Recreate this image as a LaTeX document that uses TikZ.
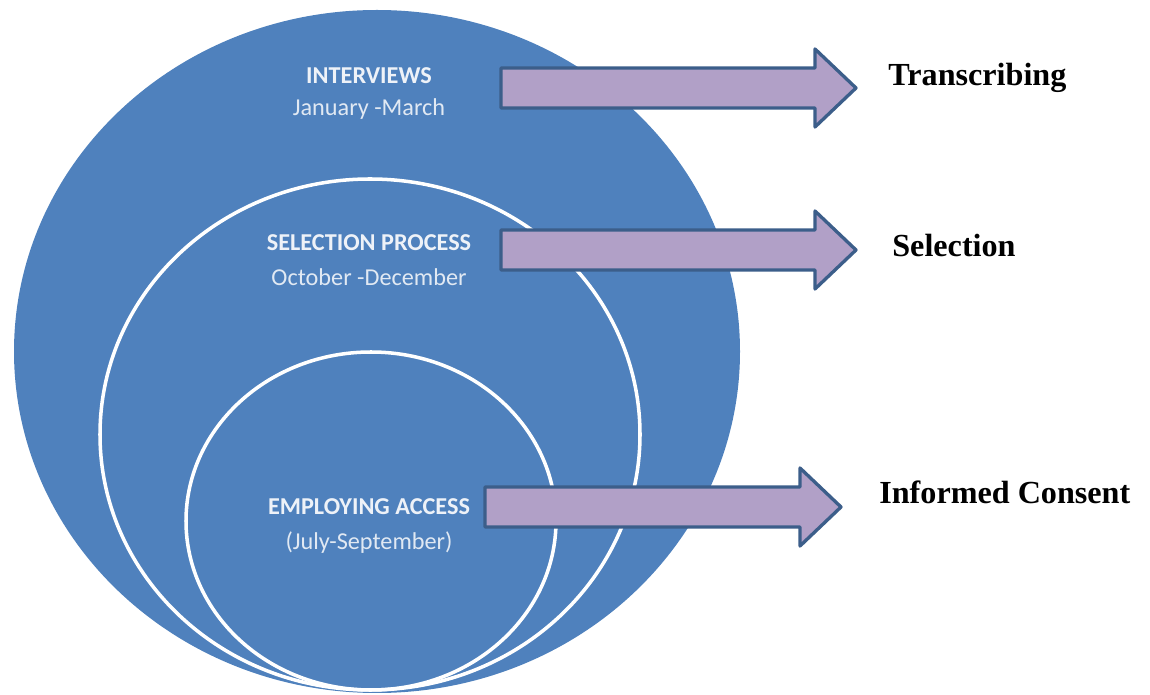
\documentclass[tikz,border=0pt]{standalone}
\usepackage{fontspec}
\setmainfont{Liberation Serif}
\setsansfont{Carlito}
\definecolor{ringblue}{HTML}{4F81BD}
\definecolor{arrowfill}{HTML}{B1A0C7}
\definecolor{arrowedge}{HTML}{3C5E8A}
\definecolor{softwhite}{HTML}{EEF2F8}
\begin{document}
\begin{tikzpicture}[x=0.02cm,y=-0.02cm,
  ring/.style={draw=white,line width=2pt},
  fat/.style={fill=arrowfill,draw=arrowedge,line width=1.9pt,line join=round},
  stage/.style={font=\sffamily\bfseries\fontsize{13.8}{16}\selectfont,text=softwhite,inner sep=0pt},
  period/.style={font=\sffamily\fontsize{13.8}{16}\selectfont,text=softwhite!92!ringblue,inner sep=0pt},
  outcome/.style={font=\rmfamily\bfseries\fontsize{18.3}{21}\selectfont,text=black,inner sep=0pt,anchor=west}]
\useasboundingbox (0,0) rectangle (1150,695);

% nested phases
\fill[ringblue] (377,351.5) ellipse [x radius=363, y radius=341.5];
\draw[ring] (370,434.5) ellipse [x radius=270, y radius=255.5];
\draw[ring] (371,521) ellipse [x radius=185, y radius=169];

% phase labels
\node[stage]  (int)  at (369,76)  {INTERVIEWS};
\node[period] (intp) at (369,109) {January -March};
\node[stage]  (sel)  at (369,243) {SELECTION PROCESS};
\node[period] (selp) at (369,277) {October -December};
\node[stage]  (emp)  at (369,507) {EMPLOYING ACCESS};
\node[period] (empp) at (369,543) {(July-September)};

% block arrows
\draw[fat] (501,68) -- (815,68) -- (815,49) -- (856,88) -- (815,127) -- (815,108) -- (501,108) -- cycle;
\draw[fat] (501,230) -- (815,230) -- (815,211) -- (856,250) -- (815,289) -- (815,270) -- (501,270) -- cycle;
\draw[fat] (485,487) -- (800,487) -- (800,468) -- (841,507) -- (800,546) -- (800,527) -- (485,527) -- cycle;

% outcomes
\node[outcome] (tra) at (888,78)  {Transcribing};
\node[outcome] (slc) at (892,246) {Selection};
\node[outcome] (inf) at (879,492) {Informed Consent};
\end{tikzpicture}
\end{document}
